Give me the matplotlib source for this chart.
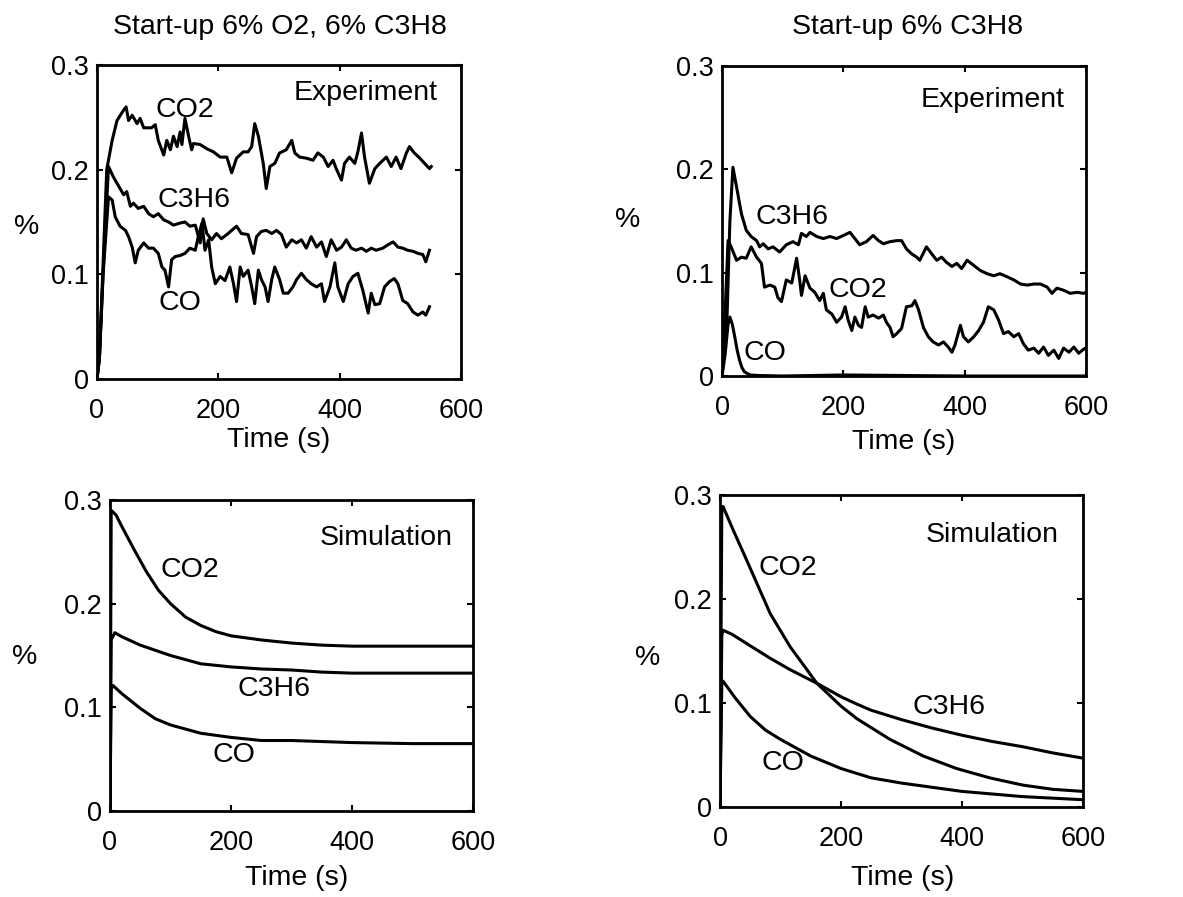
import matplotlib
matplotlib.use("Agg")
import matplotlib.pyplot as plt

plt.rcParams['font.family'] = ['Liberation Sans', 'DejaVu Sans']

# ---------------- data ----------------
x_ticks = [0, 200, 400, 600]
x_tick_labels = ["0", "200", "400", "600"]
y_ticks = [0, 0.1, 0.2, 0.3]
y_tick_labels = ["0", "0.1", "0.2", "0.3"]

titles = ["Start-up 6% O2, 6% C3H8", "Start-up 6% C3H8"]
panel_tags = ["Experiment", "Experiment", "Simulation", "Simulation"]

# Top-left: experiment, 6% O2 + 6% C3H8
tl_co2_t = [0, 4, 10, 16, 25, 33, 44, 48, 52, 58, 66, 71, 77, 90, 96, 101, 110, 115, 121, 126,
            132, 137, 140, 145, 151, 156, 159, 170, 181, 192, 203, 214, 222, 230, 241, 249, 255, 260,
            266, 274, 279, 285, 293, 301, 312, 321, 326, 334, 345, 356, 364, 373, 381, 389, 395, 403,
            408, 416, 425, 430, 436, 441, 449, 458, 466, 477, 485, 493, 501, 510, 515, 523, 532, 540,
            548, 551]
tl_co2_v = [0, 0.02, 0.11, 0.20, 0.228, 0.247, 0.257, 0.260, 0.247, 0.252, 0.244, 0.249, 0.240,
            0.240, 0.243, 0.228, 0.214, 0.228, 0.219, 0.232, 0.222, 0.236, 0.224, 0.249, 0.232, 0.219,
            0.225, 0.224, 0.220, 0.217, 0.212, 0.212, 0.197, 0.211, 0.217, 0.217, 0.222, 0.244, 0.232,
            0.206, 0.182, 0.203, 0.206, 0.216, 0.219, 0.228, 0.216, 0.212, 0.211, 0.209, 0.216, 0.212,
            0.203, 0.209, 0.200, 0.190, 0.206, 0.212, 0.206, 0.217, 0.235, 0.212, 0.187, 0.201, 0.206,
            0.212, 0.203, 0.212, 0.201, 0.216, 0.222, 0.216, 0.211, 0.206, 0.201, 0.203]

tl_c3h6_t = [0, 4, 10, 19, 27, 36, 44, 49, 55, 60, 68, 77, 85, 93, 101, 110, 118, 126, 137, 145,
             153, 162, 170, 175, 181, 189, 197, 205, 214, 222, 230, 238, 249, 258, 263, 271, 279, 288,
             296, 304, 312, 321, 329, 337, 345, 353, 362, 370, 378, 386, 395, 403, 411, 419, 427, 436,
             444, 452, 460, 471, 479, 488, 496, 504, 512, 521, 529, 537, 542, 548]
tl_c3h6_v = [0, 0.02, 0.10, 0.203, 0.193, 0.184, 0.176, 0.179, 0.165, 0.168, 0.163, 0.165, 0.158,
             0.155, 0.158, 0.152, 0.150, 0.147, 0.149, 0.150, 0.146, 0.147, 0.130, 0.153, 0.139, 0.133,
             0.139, 0.134, 0.138, 0.142, 0.146, 0.139, 0.138, 0.120, 0.136, 0.141, 0.142, 0.139, 0.142,
             0.138, 0.126, 0.133, 0.130, 0.133, 0.125, 0.136, 0.126, 0.131, 0.117, 0.133, 0.123, 0.126,
             0.133, 0.125, 0.123, 0.125, 0.122, 0.125, 0.123, 0.125, 0.128, 0.131, 0.126, 0.125, 0.123,
             0.122, 0.120, 0.119, 0.112, 0.123]

tl_co_t = [0, 4, 10, 19, 25, 30, 38, 47, 52, 58, 63, 68, 77, 85, 93, 101, 107, 112, 118, 123, 129,
           137, 145, 153, 162, 167, 173, 178, 184, 189, 195, 203, 211, 219, 225, 230, 236, 241, 249,
           255, 260, 266, 271, 277, 282, 288, 293, 301, 307, 315, 323, 329, 337, 345, 353, 362, 370,
           375, 384, 392, 397, 406, 414, 422, 430, 438, 447, 452, 458, 466, 474, 482, 490, 496, 504,
           512, 521, 529, 537, 542, 548]
tl_co_v = [0, 0.02, 0.10, 0.174, 0.171, 0.155, 0.146, 0.142, 0.136, 0.126, 0.111, 0.123, 0.130,
           0.125, 0.125, 0.120, 0.107, 0.104, 0.088, 0.114, 0.117, 0.118, 0.120, 0.125, 0.123, 0.136,
           0.149, 0.123, 0.133, 0.107, 0.091, 0.098, 0.094, 0.107, 0.091, 0.074, 0.107, 0.098, 0.104,
           0.088, 0.072, 0.104, 0.095, 0.088, 0.074, 0.095, 0.107, 0.095, 0.082, 0.082, 0.088, 0.095,
           0.101, 0.095, 0.091, 0.088, 0.091, 0.074, 0.088, 0.111, 0.088, 0.074, 0.091, 0.098, 0.101,
           0.085, 0.063, 0.082, 0.071, 0.072, 0.088, 0.093, 0.096, 0.091, 0.075, 0.072, 0.064, 0.061,
           0.064, 0.061, 0.069]

# Top-right: experiment, 6% C3H8
tr_c3h6_t = [0, 8, 13, 18, 24, 32, 40, 48, 57, 62, 68, 76, 84, 95, 106, 117, 126, 131, 139, 145,
             156, 167, 178, 189, 200, 211, 219, 227, 238, 249, 258, 266, 277, 288, 296, 304, 313, 321,
             326, 337, 346, 354, 362, 370, 379, 387, 395, 404, 415, 426, 437, 448, 458, 470, 481, 492,
             503, 514, 525, 536, 544, 552, 563, 574, 585, 596, 600]
tr_c3h6_v = [0, 0.05, 0.15, 0.202, 0.183, 0.157, 0.141, 0.135, 0.131, 0.125, 0.128, 0.123, 0.125,
             0.120, 0.127, 0.130, 0.127, 0.138, 0.135, 0.139, 0.135, 0.133, 0.135, 0.133, 0.136, 0.139,
             0.133, 0.127, 0.130, 0.136, 0.131, 0.128, 0.130, 0.131, 0.131, 0.123, 0.118, 0.115, 0.112,
             0.125, 0.118, 0.112, 0.115, 0.110, 0.106, 0.109, 0.104, 0.112, 0.107, 0.102, 0.099, 0.097,
             0.099, 0.096, 0.093, 0.089, 0.088, 0.089, 0.089, 0.086, 0.080, 0.085, 0.083, 0.080, 0.081,
             0.080, 0.081]

tr_co2_t = [0, 5, 10, 15, 24, 32, 40, 48, 57, 65, 70, 79, 87, 92, 98, 106, 115, 123, 128, 131,
            137, 145, 153, 161, 167, 172, 181, 189, 197, 203, 208, 214, 219, 225, 230, 236, 241, 249,
            258, 266, 271, 277, 282, 288, 296, 304, 313, 318, 324, 332, 340, 348, 357, 365, 373, 379,
            384, 393, 398, 406, 415, 423, 431, 439, 448, 456, 464, 472, 481, 489, 497, 505, 514, 522,
            530, 538, 547, 555, 563, 572, 580, 588, 596, 600]
tr_co2_v = [0, 0.06, 0.131, 0.125, 0.112, 0.115, 0.114, 0.125, 0.115, 0.109, 0.086, 0.088, 0.086,
            0.076, 0.072, 0.093, 0.090, 0.114, 0.093, 0.078, 0.097, 0.085, 0.081, 0.073, 0.080, 0.064,
            0.060, 0.052, 0.057, 0.067, 0.054, 0.044, 0.057, 0.049, 0.047, 0.067, 0.057, 0.059, 0.056,
            0.059, 0.052, 0.047, 0.038, 0.041, 0.046, 0.067, 0.068, 0.073, 0.064, 0.047, 0.038, 0.033,
            0.030, 0.033, 0.028, 0.023, 0.030, 0.049, 0.038, 0.033, 0.038, 0.044, 0.052, 0.067, 0.064,
            0.054, 0.041, 0.043, 0.038, 0.041, 0.031, 0.025, 0.027, 0.022, 0.028, 0.020, 0.025, 0.017,
            0.027, 0.023, 0.028, 0.022, 0.026, 0.027]

tr_co_t = [0, 5, 10, 13, 17, 21, 25, 29, 33, 37, 46, 60, 100, 200, 300, 400, 500, 600]
tr_co_v = [0, 0.02, 0.05, 0.057, 0.050, 0.038, 0.025, 0.015, 0.008, 0.004, 0.001, 0.0005, 0.0,
           0.001, 0.0005, 0.0, 0.0, 0.0]

# Bottom-left: simulation, 6% O2 + 6% C3H8
bl_co2_t = [0, 2, 10, 20, 40, 60, 80, 100, 125, 150, 175, 200, 250, 300, 350, 400, 500, 600]
bl_co2_v = [0, 0.290, 0.2855, 0.274, 0.252, 0.231, 0.213, 0.200, 0.187, 0.179, 0.173, 0.169,
            0.165, 0.162, 0.160, 0.159, 0.159, 0.159]
bl_c3h6_t = [0, 2, 8, 20, 50, 100, 150, 200, 250, 300, 350, 400, 500, 600]
bl_c3h6_v = [0, 0.165, 0.172, 0.168, 0.160, 0.150, 0.142, 0.139, 0.137, 0.136, 0.134, 0.133,
             0.133, 0.133]
bl_co_t = [0, 2, 5, 20, 50, 75, 100, 150, 200, 250, 300, 400, 500, 600]
bl_co_v = [0, 0.118, 0.121, 0.113, 0.099, 0.089, 0.083, 0.075, 0.071, 0.068, 0.068, 0.066,
           0.065, 0.065]

# Bottom-right: simulation, 6% C3H8
br_co2_t = [0, 3, 5, 22, 39, 61, 83, 116, 140, 160, 200, 226, 281, 336, 391, 446, 501, 550, 600]
br_co2_v = [0, 0.285, 0.289, 0.266, 0.244, 0.215, 0.186, 0.154, 0.135, 0.119, 0.097, 0.085,
            0.065, 0.049, 0.037, 0.028, 0.021, 0.017, 0.015]
br_c3h6_t = [0, 3, 5, 20, 50, 83, 116, 160, 200, 226, 250, 300, 350, 400, 450, 500, 550, 600]
br_c3h6_v = [0, 0.165, 0.170, 0.166, 0.155, 0.143, 0.132, 0.119, 0.106, 0.099, 0.093, 0.084,
             0.076, 0.069, 0.063, 0.058, 0.052, 0.047]
br_co_t = [0, 3, 5, 25, 50, 75, 100, 150, 200, 250, 300, 400, 500, 600]
br_co_v = [0, 0.118, 0.121, 0.105, 0.087, 0.074, 0.065, 0.049, 0.037, 0.028, 0.023, 0.015,
           0.010, 0.007]

# curve label positions (data coords)
tl_labels = [("CO2", 96, 0.257), ("C3H6", 99, 0.171), ("CO", 102, 0.073)]
tr_labels = [("C3H6", 56, 0.154), ("CO2", 176, 0.083), ("CO", 36, 0.022)]
bl_labels = [("CO2", 83, 0.232), ("C3H6", 210, 0.118), ("CO", 170, 0.054)]
br_labels = [("CO2", 63, 0.230), ("C3H6", 319, 0.096), ("CO", 69, 0.042)]

# ---------------- figure ----------------
W, H = 1183, 897
fig = plt.figure(figsize=(W / 100, H / 100), dpi=100)

def px_axes(l, t, r, b):
    return fig.add_axes([l / W, 1 - b / H, (r - l) / W, (b - t) / H])

axes = [px_axes(97, 65, 461, 379), px_axes(722, 66, 1086, 376),
        px_axes(110, 500, 473, 811), px_axes(720, 495, 1083, 807)]

series = [
    [(tl_co2_t, tl_co2_v), (tl_c3h6_t, tl_c3h6_v), (tl_co_t, tl_co_v)],
    [(tr_co2_t, tr_co2_v), (tr_c3h6_t, tr_c3h6_v), (tr_co_t, tr_co_v)],
    [(bl_co2_t, bl_co2_v), (bl_c3h6_t, bl_c3h6_v), (bl_co_t, bl_co_v)],
    [(br_co2_t, br_co2_v), (br_c3h6_t, br_c3h6_v), (br_co_t, br_co_v)],
]
labels = [tl_labels, tr_labels, bl_labels, br_labels]
tag_pos = [(562, 0.273), (565, 0.267), (567, 0.263), (560, 0.262)]

FS = 20.5
for i, ax in enumerate(axes):
    for t, v in series[i]:
        ax.plot(t, v, color="black", lw=2.2, solid_joinstyle="round")
    ax.set_xlim(0, 600)
    ax.set_ylim(0, 0.3)
    ax.set_xticks(x_ticks)
    ax.set_xticklabels(x_tick_labels)
    ax.set_yticks(y_ticks)
    ax.set_yticklabels(y_tick_labels)
    ax.tick_params(direction="in", top=True, right=True, length=4, width=1.5,
                   labelsize=19.5, colors="black")
    ax.tick_params(axis="x", pad=14)
    ax.tick_params(axis="y", pad=6)
    for s in ax.spines.values():
        s.set_linewidth(2)
    for txt, x, y in labels[i]:
        ax.text(x, y, txt, fontsize=FS, ha="left", va="center")
    ax.text(tag_pos[i][0], tag_pos[i][1], panel_tags[i], fontsize=FS, ha="right", va="center")

# titles
fig.text(280 / W, 1 - 27 / H, titles[0], fontsize=FS, ha="center", va="center")
fig.text(908 / W, 1 - 27 / H, titles[1], fontsize=FS, ha="center", va="center")

# x labels
for (x, y) in [(279, 440), (904, 442), (297, 878), (903, 878)]:
    fig.text(x / W, 1 - y / H, "Time (s)", fontsize=FS, ha="center", va="center")
# y labels
for (x, y) in [(27, 227), (628, 220), (25, 657), (648, 658)]:
    fig.text(x / W, 1 - y / H, "%", fontsize=FS, ha="center", va="center")

fig.savefig("out.png", dpi=100, facecolor="white")
